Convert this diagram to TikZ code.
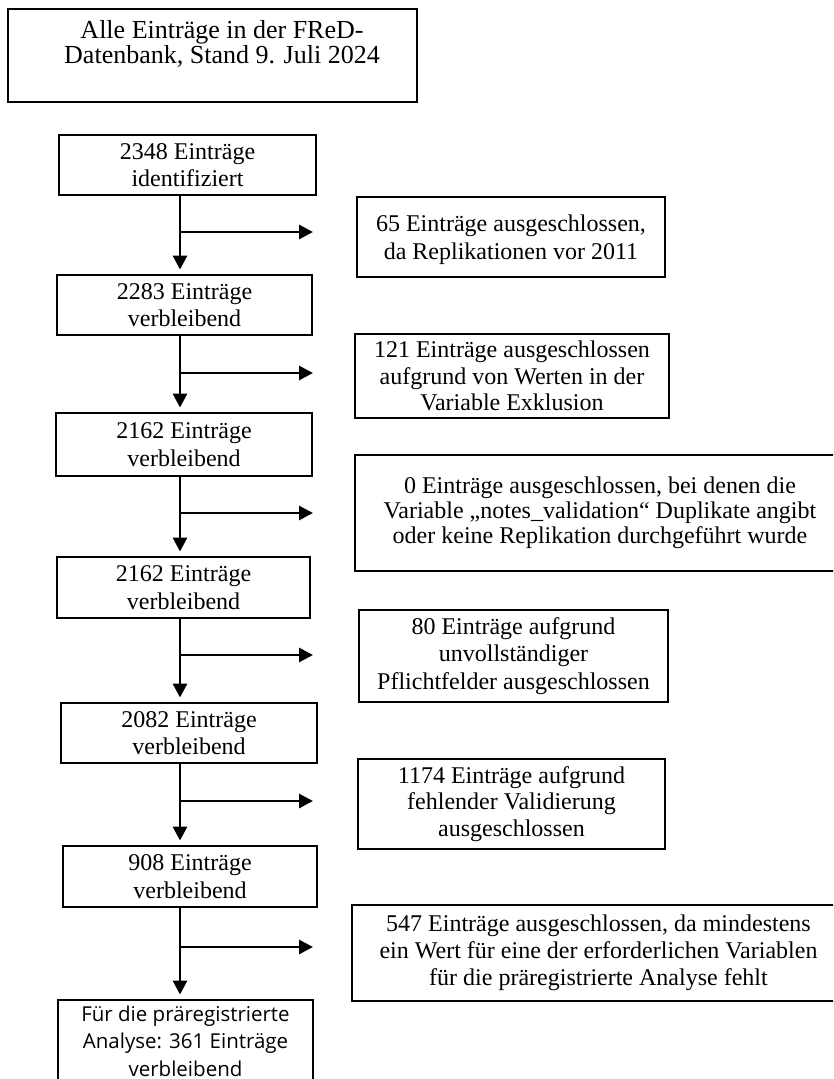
\documentclass[tikz,border=0pt]{standalone}
\usepackage{fontspec}
\setmainfont{Liberation Serif}
\newfontfamily\aptosfont{Open Sans}
\usetikzlibrary{arrows.meta}
\tikzset{
  box/.style={draw, line width=2.9pt, inner sep=0pt, align=center,
    font=\fontsize{24}{27.5}\selectfont},
  flow/.style={line width=2.9pt, -{Triangle[length=14pt,width=14pt]}},
  down/.style={flow, shorten >=4pt},
}
\begin{document}
\begin{tikzpicture}[x=1pt,y=-1pt]
\useasboundingbox (0,0) rectangle (833,1079);
\fill[white] (0,0) rectangle (833,1079);
\clip (0,0) rectangle (833,1079);

% top box
\node[box, minimum width=409, minimum height=93] (top) at (212.5,55.5) {};
\node[align=center, anchor=north, inner sep=0pt,
  font=\fontsize{26}{25}\selectfont] (toptext) at (222,20.5)
  {Alle Einträge in der FReD-\\Datenbank, Stand 9. Juli 2024};

% left column
\node[box, minimum width=257, minimum height=60] (b1) at (187.5,165) {2348 Einträge\\identifiziert};
\node[box, minimum width=255, minimum height=60] (b2) at (184.5,305) {2283 Einträge\\verbleibend};
\node[box, minimum width=256, minimum height=63] (b3) at (184,444.5) {2162 Einträge\\verbleibend};
\node[box, minimum width=253, minimum height=61] (b4) at (183.5,587.5) {2162 Einträge\\verbleibend};
\node[box, minimum width=256, minimum height=60] (b5) at (189,733) {2082 Einträge\\verbleibend};
\node[box, minimum width=254, minimum height=61] (b6) at (190,876.5) {908 Einträge\\verbleibend};
\node[box, minimum width=255, minimum height=82,
  font=\aptosfont\fontsize{20.5}{27.5}\selectfont] (b7) at (185.5,1041)
  {Für die präregistrierte\\Analyse: 361 Einträge\\verbleibend};

% right column
\node[box, minimum width=308, minimum height=80, text depth=0pt] (r1) at (511,237)
  {65 Einträge ausgeschlossen,\\da Replikationen vor 2011};
\node[box, minimum width=314, minimum height=84, font=\fontsize{24}{26.5}\selectfont] (r2) at (512,376)
  {121 Einträge ausgeschlossen\\aufgrund von Werten in der\\Variable Exklusion};
\node[box, minimum width=490, minimum height=116, font=\fontsize{24}{25}\selectfont] (r3) at (600,513)
  {0 Einträge ausgeschlossen, bei denen die\\Variable „notes\_validation“ Duplikate angibt\\oder keine Replikation durchgeführt wurde};
\node[box, minimum width=309, minimum height=92] (r4) at (513.5,656)
  {80 Einträge aufgrund\\unvollständiger\\Pflichtfelder ausgeschlossen};
\node[box, minimum width=307, minimum height=90, font=\fontsize{24}{26.5}\selectfont] (r5) at (511.5,804)
  {1174 Einträge aufgrund\\fehlender Validierung\\ausgeschlossen};
\node[box, minimum width=493, minimum height=96, font=\fontsize{24}{27}\selectfont] (r6) at (598.5,953)
  {547 Einträge ausgeschlossen, da mindestens\\ein Wert für eine der erforderlichen Variablen\\für die präregistrierte Analyse fehlt};

% spine and branch points
\coordinate (spine) at (180,0);
\coordinate (tipx) at (313,0);
\coordinate (j1) at (180,232);
\coordinate (j2) at (180,373);
\coordinate (j3) at (180,513);
\coordinate (j4) at (180,655);
\coordinate (j5) at (180,801);
\coordinate (j6) at (180,947);

% vertical arrows
\draw[down] (b1.south -| spine) -- (b2.north -| spine);
\draw[down] (b2.south -| spine) -- (b3.north -| spine);
\draw[down] (b3.south -| spine) -- (b4.north -| spine);
\draw[down] (b4.south -| spine) -- (b5.north -| spine);
\draw[down] (b5.south -| spine) -- (b6.north -| spine);
\draw[down] (b6.south -| spine) -- (b7.north -| spine);

% exclusion arrows
\draw[flow] (j1) -- (j1 -| tipx);
\draw[flow] (j2) -- (j2 -| tipx);
\draw[flow] (j3) -- (j3 -| tipx);
\draw[flow] (j4) -- (j4 -| tipx);
\draw[flow] (j5) -- (j5 -| tipx);
\draw[flow] (j6) -- (j6 -| tipx);
\end{tikzpicture}
\end{document}
